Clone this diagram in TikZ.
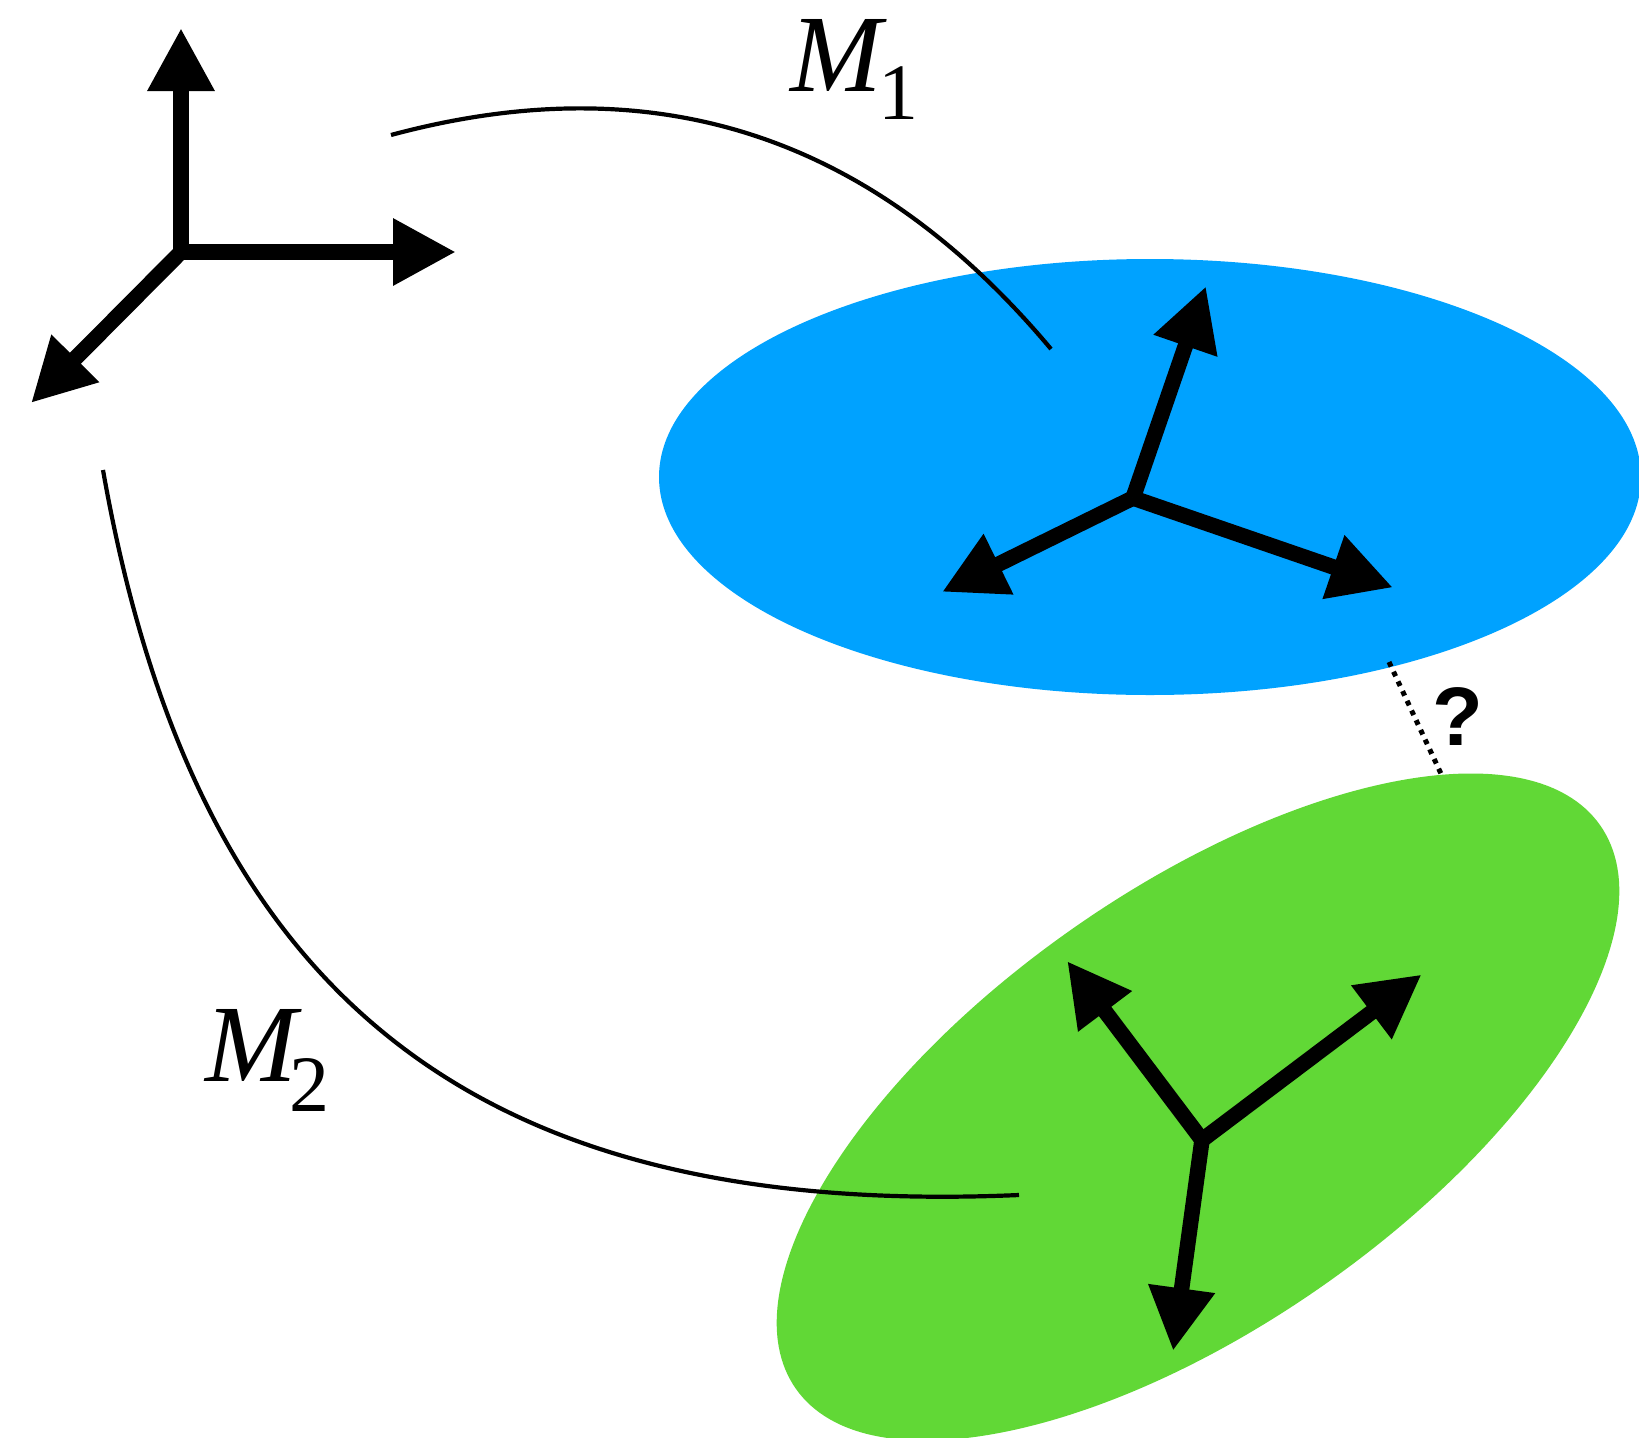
\documentclass[tikz,border=0pt]{standalone}
\usepackage{fontspec}
\setmainfont{Liberation Serif}
\newfontfamily\qfont{Liberation Sans}
\usetikzlibrary{arrows.meta}
\definecolor{skyblue}{RGB}{0,162,255}
\definecolor{leafgreen}{RGB}{97,216,54}
\begin{document}
\begin{tikzpicture}[x=1pt,y=-1pt,
  vec/.style={line width=15.5pt,-{Triangle[length=63pt,width=63pt]}},
  link/.style={line width=4.2pt},
  dotline/.style={line width=5pt,dash pattern=on 5pt off 5.7pt},
  mainlbl/.style={anchor=base,inner sep=0pt,font=\itshape\fontsize{110}{110}\selectfont},
  sublbl/.style={anchor=base,inner sep=0pt,font=\fontsize{80}{80}\selectfont},
  axes/.pic={
    \coordinate (-o) at (0,0);
    \coordinate (-u) at (0,-224);
    \coordinate (-r) at (275,0);
    \coordinate (-d) at (-150,151);
    \draw[vec] (-o) -- (-u);
    \draw[vec] (-o) -- (-r);
    \draw[vec] (-o) -- (-d);
  }]
\useasboundingbox (0,0) rectangle (1639,1438);
\clip (0,0) rectangle (1639,1438);
% surfaces
\fill[skyblue] (1150,477) ellipse [x radius=491, y radius=218];
\fill[leafgreen, rotate around={35:(1198,1107)}] (1198,1107) ellipse [x radius=491, y radius=218];
% frames
\pic (f0) at (181,252) {axes};
\pic[rotate=-19] (f1) at (1133,498) {axes};
\pic[rotate=37] (f2) at (1202,1140) {axes};
% maps
\coordinate (a1) at (391,135);
\coordinate (b1) at (1051,349);
\coordinate (a2) at (103,470);
\coordinate (b2) at (1019,1195);
\draw[link] (a1) .. controls (681,57) and (890,157) .. (b1);
\draw[link] (a2) .. controls (195,992) and (469,1219) .. (b2);
\node[mainlbl] (m1) at (836,91) {M};
\node[sublbl] (m1s) at (898,119) {1};
\node[mainlbl] (m2) at (251,1081) {M};
\node[sublbl] (m2s) at (309,1111) {2};
% question
\coordinate (d1) at (1389,662);
\coordinate (d2) at (1443,778);
\draw[dotline] (d1) -- (d2);
\node[anchor=base,inner sep=0pt,font=\qfont\bfseries\fontsize{83}{83}\selectfont] (q) at (1458,745) {?};
\end{tikzpicture}
\end{document}
